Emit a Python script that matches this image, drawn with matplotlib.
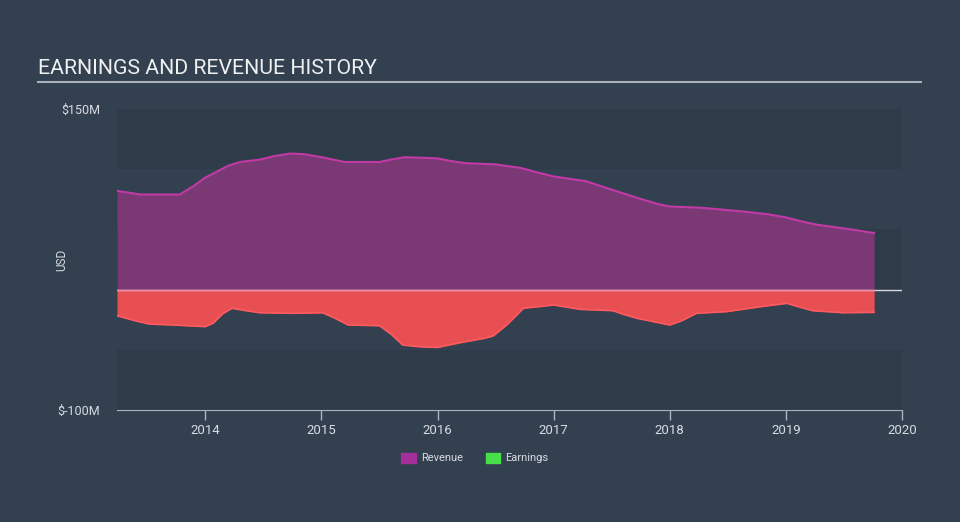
import matplotlib
matplotlib.use("Agg")
import matplotlib.pyplot as plt
from matplotlib.patches import Patch

plt.rcParams['font.family'] = ['Roboto', 'DejaVu Sans']

# Revenue (USD millions) by decimal year
rev_x = [2013.24, 2013.44, 2013.78, 2013.9, 2014.0, 2014.1, 2014.2, 2014.3, 2014.47, 2014.6,
         2014.73, 2014.85, 2015.0, 2015.2, 2015.5, 2015.6, 2015.72, 2016.0, 2016.1, 2016.24,
         2016.5, 2016.72, 2016.85, 2017.0, 2017.28, 2017.5, 2017.76, 2017.9, 2018.0,
         2018.27, 2018.62, 2018.85, 2019.0, 2019.12, 2019.26, 2019.56, 2019.76]
rev_y = [82, 79, 79, 86, 93, 98, 103, 106, 108, 111,
         113, 112.5, 110, 106, 106, 108, 110, 109, 107, 105,
         104, 101, 97.5, 94, 90, 83, 75, 71, 69,
         68, 65, 62.5, 60, 57, 54, 50, 47]

# Earnings (USD millions)
earn_x = [2013.24, 2013.4, 2013.52, 2013.72, 2013.95, 2014.0, 2014.07, 2014.15, 2014.23,
          2014.35, 2014.47, 2014.76, 2015.01, 2015.1, 2015.23, 2015.5, 2015.6, 2015.7,
          2015.85, 2016.0, 2016.2, 2016.4, 2016.48, 2016.6, 2016.74, 2017.0, 2017.23,
          2017.51, 2017.6, 2017.72, 2018.0, 2018.1, 2018.23, 2018.49, 2018.78, 2019.01,
          2019.1, 2019.23, 2019.49, 2019.76]
earn_y = [-21.7, -26, -28.6, -29.4, -30.5, -30.8, -27.8, -20, -15.5,
          -17.5, -19.2, -19.7, -19.2, -23, -29.4, -30, -37, -46,
          -47.5, -48, -44, -40.5, -38.5, -29, -15.5, -12.8, -16.4,
          -17.5, -20.5, -23.9, -29.4, -26, -19.7, -18.3, -14.2, -11.4,
          -14, -17.5, -19.2, -18.9]

years = [2014, 2015, 2016, 2017, 2018, 2019, 2020]
y_ticks = [-100, 150]
y_labels = ['$-100M', '$150M']

BG = '#334050'
DARK = '#2e3b49'

fig = plt.figure(figsize=(9.6, 5.22), dpi=100, facecolor=BG)
ax = fig.add_axes([117/960, 1-410/522, (902-117)/960, (410-109)/522])
ax.set_facecolor(BG)
ax.set_xlim(2013.24, 2020.0)
ax.set_ylim(-100, 150)

for lo, hi, c in [(100, 150, DARK), (50, 100, BG), (0, 50, DARK), (-50, 0, BG), (-100, -50, DARK)]:
    ax.axhspan(lo, hi, color=c, lw=0, zorder=0)

ax.fill_between(rev_x, 0, rev_y, color='#7a3874', lw=0, zorder=2)
ax.plot(rev_x, rev_y, color='#c13aa6', lw=1.5, zorder=3, solid_joinstyle='round')
ax.fill_between(earn_x, 0, earn_y, color='#e84f52', lw=0, zorder=2)
ax.plot(earn_x, earn_y, color='#ff5a5e', lw=1.2, zorder=3, solid_joinstyle='round')
ax.axhline(0, color='#d8d8e0', lw=1, zorder=4)
ax.plot([rev_x[0], rev_x[-1]], [0, 0], color='#f08aa0', lw=1, zorder=5)

for s in ['top', 'right', 'left']:
    ax.spines[s].set_visible(False)
ax.spines['bottom'].set_color('#aab4c0')
ax.set_xticks(years)
ax.set_xticklabels([str(y) for y in years])
ax.tick_params(axis='x', colors='#aab4c0', labelcolor='#d8dce2', length=7, width=1, labelsize=9.5, pad=3)
ax.set_yticks(y_ticks)
ax.set_yticklabels(y_labels)
ax.tick_params(axis='y', length=0, labelcolor='#d8dce2', labelsize=9, pad=12)

fig.text(62/960, 1-260/522, 'USD', color='#d8dce2', fontsize=8.5, rotation=90, va='center', ha='center')
fig.text(38/960, 1-68/522, 'EARNINGS AND REVENUE HISTORY', color='#eef0f2', fontsize=15.3, va='center', ha='left')
fig.add_artist(plt.Line2D([38/960, 921/960], [1-82/522, 1-82/522], color='#aab0b8', lw=1.5))

handles = [Patch(color='#a3309a', label='Revenue'), Patch(color='#48e048', label='Earnings')]
leg = fig.legend(handles=handles, loc='center', bbox_to_anchor=(475/960, 1-458/522), ncol=2,
                 frameon=False, fontsize=8, labelcolor='#d8dce2', handlelength=1.3, handleheight=1.0,
                 columnspacing=2.0, handletextpad=0.5)

fig.savefig('out.png', dpi=100, facecolor=BG)
